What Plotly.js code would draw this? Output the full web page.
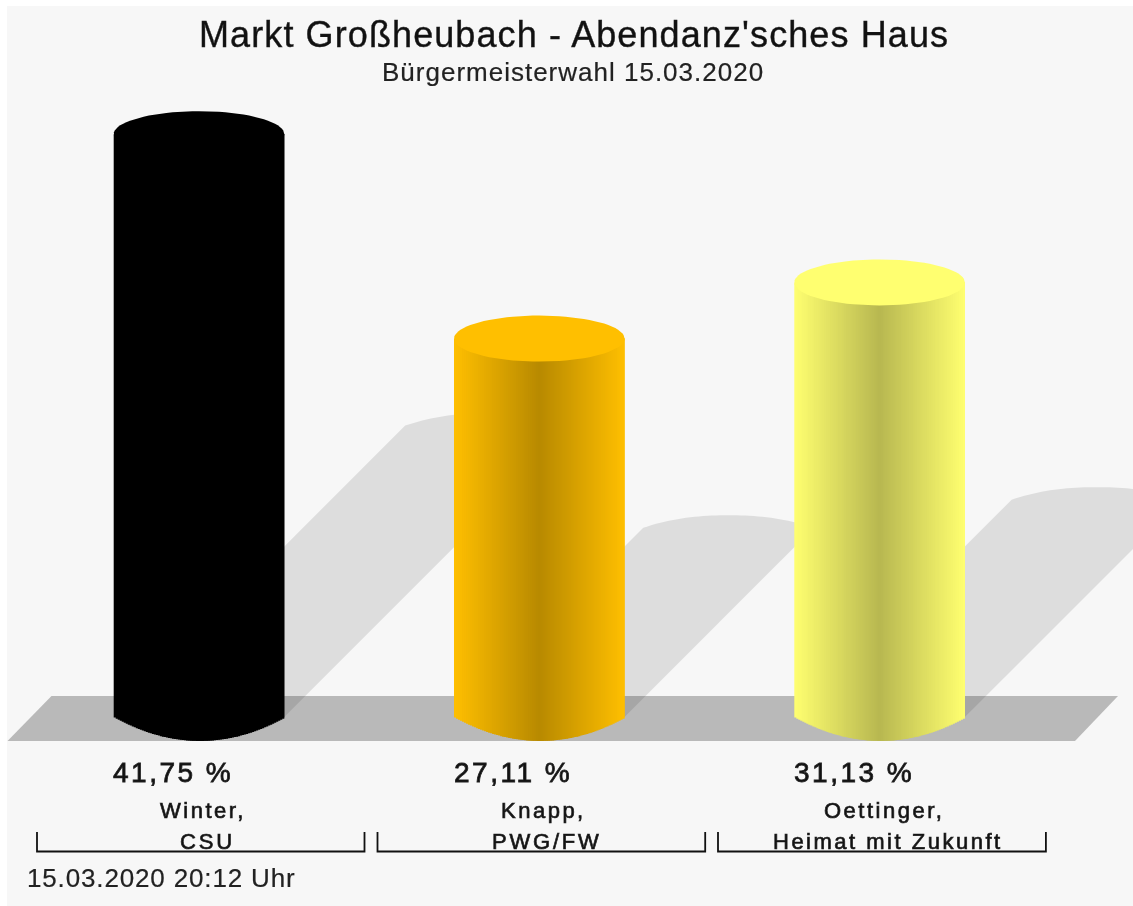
<!DOCTYPE html>
<html>
<head>
<meta charset="utf-8">
<script src="https://cdn.plot.ly/plotly-3.0.1.min.js"></script>
<style>html,body{margin:0;padding:0;background:#fff}#c{width:1133px;height:906px;filter:blur(0.6px)}</style>
</head>
<body>
<div id="c"></div>
<script>
var shares = [41.75, 27.11, 31.13];
var shareLabels = ["41,75 %", "27,11 %", "31,13 %"];
var names = ["Winter,", "Knapp,", "Oettinger,"];
var parties = ["CSU", "PWG/FW", "Heimat mit Zukunft"];
var capColors = [[0,0,0],[255,191,0],[255,255,112]];
var titleText = "Markt Großheubach - Abendanz'sches Haus";
var subtitleText = "Bürgermeisterwahl 15.03.2020";
var stampText = "15.03.2020 20:12 Uhr";

var W = 1133, H = 906;
var pxX = 340.3, pxY = 13.96, x0px = 199, y0px = 717;
var xOf = function(p){ return (p - x0px) / pxX; };
var yOf = function(p){ return (y0px - p) / pxY; };
var halfW = 85.3 / pxX, capB = 23 / pxY, shadowB = 12.5 / pxY;

var traces = [], shapes = [], annotations = [];
var FONT = "Liberation Sans";

function rgb(c, f){ return "rgb(" + c.map(function(v){ return Math.round(v * f); }).join(",") + ")"; }
function spaced(t, sp, stroke){
  var st = "letter-spacing:" + sp + "px";
  if (stroke) st += ";stroke:#222;stroke-width:" + stroke + "px";
  return '<span style="' + st + '">' + t + '</span>';
}

shapes.push({type:"rect", xref:"paper", yref:"paper", x0:7/W, x1:1, y0:0, y1:1-6/H, fillcolor:"#f7f7f7", line:{width:0}, layer:"below"});
shapes.push({type:"path", layer:"below", line:{width:0}, fillcolor:"#b9b9b9",
  path:"M"+xOf(7.5)+","+yOf(741)+" L"+xOf(51.5)+","+yOf(696)+" L"+xOf(1118)+","+yOf(696)+" L"+xOf(1075)+","+yOf(741)+" Z"});

shares.forEach(function(v, i){
  var s = (v / 2) * pxY / pxX;
  var p = "M" + (i - halfW) + ",0 L" + (i - halfW + s) + "," + (v / 2);
  for (var k = 1; k <= 40; k++) {
    var t = -1 + 2 * k / 40;
    p += " L" + (i + s + t * halfW) + "," + (v / 2 + shadowB * (1 - Math.pow(Math.abs(t), 2.3)));
  }
  p += " L" + (i + halfW) + ",0 Z";
  shapes.push({type:"path", layer:"below", line:{width:0}, fillcolor:"rgba(0,0,0,0.1)", path:p});
});

var N = 85, step = 2 * halfW / N;
shares.forEach(function(v, i){
  var xs = [], ys = [], bases = [], cols = [], widths = [];
  for (var k = 0; k < N; k++) {
    var t = -1 + (2 * k + 1) / N;
    var bottom = -capB * 1.04 * (1 - t * t);
    // every slice overlaps its neighbour on the right so no seams show
    var wd = k < N - 1 ? step * 2 : step;
    xs.push(i + t * halfW - step / 2 + wd / 2);
    bases.push(bottom);
    ys.push(v - bottom);
    cols.push(rgb(capColors[i], 0.72 + 0.28 * Math.abs(t)));
    widths.push(wd);
  }
  traces.push({type:"bar", x:xs, y:ys, base:bases, width:widths, hoverinfo:"skip", showlegend:false,
    marker:{color:cols, line:{width:0}}});
  var cx = [], cy = [];
  for (var a = 0; a <= 80; a++) {
    var ang = 2 * Math.PI * a / 80;
    cx.push(i + Math.cos(ang) * halfW); cy.push(v + capB * Math.sin(ang));
  }
  traces.push({type:"scatter", mode:"lines", x:cx, y:cy, fill:"toself", fillcolor:rgb(capColors[i],1),
    line:{width:0}, hoverinfo:"skip", showlegend:false});

  var left = 37 + i * 340.5, right = 364.5 + i * 340.7;
  shapes.push({type:"path", layer:"above", line:{color:"#111", width:1.8},
    path:"M"+xOf(left)+","+yOf(832)+" L"+xOf(left)+","+yOf(851.5)+" L"+xOf(right)+","+yOf(851.5)+" L"+xOf(right)+","+yOf(832)});

  annotations.push({x:i + xOf(173) , y:yOf(772), text:spaced(shareLabels[i], 2.5, 0.8), showarrow:false, xanchor:"center", yanchor:"middle",
    font:{family:FONT, size:28, color:"#111"}});
  annotations.push({x:i + xOf(203), y:yOf(810), text:spaced(names[i], 2.5, 0.7), showarrow:false, xanchor:"center", yanchor:"middle",
    font:{family:FONT, size:22, color:"#111"}});
  annotations.push({x:i + xOf(207), y:yOf(841), text:spaced(parties[i], i === 2 ? 2.5 : 2.8, 0.7), showarrow:false, xanchor:"center", yanchor:"middle",
    font:{family:FONT, size:22, color:"#111"}});
});

annotations.push({xref:"paper", yref:"paper", x:573.5/W, y:1-35/H, text:spaced(titleText, 1.1, 0.4), showarrow:false, xanchor:"center", yanchor:"middle",
  font:{family:FONT, size:36, color:"#111"}});
annotations.push({xref:"paper", yref:"paper", x:572.5/W, y:1-72/H, text:spaced(subtitleText, 1, 0.2), showarrow:false, xanchor:"center", yanchor:"middle",
  font:{family:FONT, size:26, color:"#222"}});
annotations.push({xref:"paper", yref:"paper", x:25/W, y:1-878/H, text:spaced(stampText, 0.85, 0.2), showarrow:false, xanchor:"left", yanchor:"middle",
  font:{family:FONT, size:26, color:"#222"}});

var layout = {
  width:W, height:H, margin:{l:0,r:0,t:0,b:0,pad:0},
  paper_bgcolor:"#ffffff", plot_bgcolor:"rgba(0,0,0,0)",
  barmode:"overlay", showlegend:false, hovermode:false,
  xaxis:{range:[xOf(0), xOf(W)], visible:false, fixedrange:true},
  yaxis:{range:[yOf(H), yOf(0)], visible:false, fixedrange:true},
  shapes:shapes, annotations:annotations
};
Plotly.newPlot("c", traces, layout, {displayModeBar:false, staticPlot:true});
</script>
</body>
</html>
